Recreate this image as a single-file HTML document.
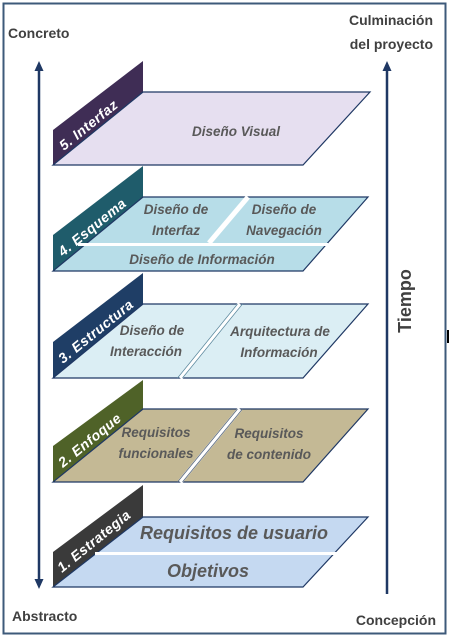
<!DOCTYPE html>
<html><head><meta charset="utf-8"><style>
html,body{margin:0;padding:0;background:#fff;width:450px;height:638px;overflow:hidden}
svg{display:block;font-family:"Liberation Sans",sans-serif}
.lbl{font-weight:bold;fill:#404040}
.it{font-style:italic;font-weight:bold;fill:#595959;font-size:13.5px}
.tab{font-style:italic;font-weight:bold;fill:#fff;font-size:14px;letter-spacing:0.5px}
</style></head><body>
<svg width="450" height="638" viewBox="0 0 450 638">
<rect x="3.5" y="3.5" width="442" height="630" fill="#fff" stroke="#3d5a7a" stroke-width="2"/>
<text x="8" y="38" class="lbl" font-size="14">Concreto</text>
<text x="433" y="25" class="lbl" font-size="14" text-anchor="end">Culminación</text>
<text x="433" y="49" class="lbl" font-size="14" text-anchor="end">del proyecto</text>
<text x="12" y="621" class="lbl" font-size="14">Abstracto</text>
<text x="436" y="625" class="lbl" font-size="14" text-anchor="end">Concepción</text>
<text transform="translate(411,301) rotate(-90)" class="lbl" font-size="18" text-anchor="middle">Tiempo</text>
<rect x="447" y="330" width="2" height="13" fill="#000"/>
<line x1="39" y1="70" x2="39" y2="580" stroke="#1f3864" stroke-width="2.5"/>
<path d="M39,61 L34.5,71 L43.5,71 Z" fill="#1f3864"/>
<path d="M39,589 L34.5,579 L43.5,579 Z" fill="#1f3864"/>
<line x1="387" y1="70" x2="387" y2="594" stroke="#1f3864" stroke-width="2.5"/>
<path d="M387,61 L382.5,71 L391.5,71 Z" fill="#1f3864"/>

<polygon points="53,130 143,61 143,92 53,165" fill="#3f2d55"/>
<polygon points="143,92 370,92 303,165 53,165" fill="#e6dff0" stroke="#1f3864" stroke-width="1.2"/>
<text x="236" y="136" class="it" text-anchor="middle">Diseño Visual</text>
<text transform="translate(64,151) rotate(-39)" class="tab">5.  Interfaz</text>

<polygon points="53,235 143,166 143,197 53,271" fill="#1f5c6b"/>
<polygon points="143,197 368,197 303,271 53,271" fill="#b7dde8" stroke="#1f3864" stroke-width="1.2"/>
<line x1="78" y1="244.5" x2="328" y2="244.5" stroke="#fff" stroke-width="3"/>
<line x1="248" y1="197" x2="209" y2="243" stroke="#fff" stroke-width="5"/>
<text x="176" y="214" class="it" text-anchor="middle">Diseño de</text>
<text x="176" y="235" class="it" text-anchor="middle">Interfaz</text>
<text x="284" y="214" class="it" text-anchor="middle">Diseño de</text>
<text x="284" y="235" class="it" text-anchor="middle">Navegación</text>
<text x="202" y="264" class="it" text-anchor="middle">Diseño de Información</text>
<text transform="translate(63,257) rotate(-39)" class="tab">4.  Esquema</text>

<polygon points="53,342 143,273 143,304 53,378" fill="#1f3e66"/>
<polygon points="143,304 368,304 303,378 53,378" fill="#dbeef4" stroke="#1f3864" stroke-width="1.2"/>
<line x1="240" y1="304" x2="180" y2="378" stroke="#fff" stroke-width="5"/>
<line x1="237.5" y1="304" x2="177.5" y2="378" stroke="#5a8aa0" stroke-width="0.8"/>
<line x1="242.5" y1="304" x2="182.5" y2="378" stroke="#5a8aa0" stroke-width="0.8"/>
<text x="152" y="335" class="it" text-anchor="middle">Diseño de</text>
<text x="146" y="356" class="it" text-anchor="middle">Interacción</text>
<text x="280" y="336" class="it" text-anchor="middle">Arquitectura de</text>
<text x="279" y="357" class="it" text-anchor="middle">Información</text>
<text transform="translate(63,364) rotate(-39)" class="tab">3.  Estructura</text>

<polygon points="53,446 143,380 143,409 53,482" fill="#4f6228"/>
<polygon points="143,409 368,409 303,482 53,482" fill="#c4b995" stroke="#1f3864" stroke-width="1.2"/>
<line x1="240" y1="409" x2="180" y2="482" stroke="#fff" stroke-width="5"/>
<line x1="237.5" y1="409" x2="177.5" y2="482" stroke="#5a6a80" stroke-width="0.8"/>
<line x1="242.5" y1="409" x2="182.5" y2="482" stroke="#5a6a80" stroke-width="0.8"/>
<text x="156" y="437" class="it" text-anchor="middle">Requisitos</text>
<text x="156" y="458" class="it" text-anchor="middle">funcionales</text>
<text x="269" y="438" class="it" text-anchor="middle">Requisitos</text>
<text x="269" y="459" class="it" text-anchor="middle">de contenido</text>
<text transform="translate(63,468) rotate(-39)" class="tab">2.    Enfoque</text>

<polygon points="53,552 143,485 143,517 53,587" fill="#3a3a3a"/>
<polygon points="143,517 368,517 303,587 53,587" fill="#c5d9f1" stroke="#1f3864" stroke-width="1.2"/>
<line x1="95" y1="553.5" x2="337" y2="553.5" stroke="#fff" stroke-width="3"/>
<text x="234" y="539" font-style="italic" font-weight="bold" fill="#595959" font-size="18" text-anchor="middle">Requisitos de usuario</text>
<text x="208" y="577" font-style="italic" font-weight="bold" fill="#595959" font-size="18" text-anchor="middle">Objetivos</text>
<text transform="translate(62,573) rotate(-39)" class="tab">1.    Estrategia</text>
</svg>
</body></html>
